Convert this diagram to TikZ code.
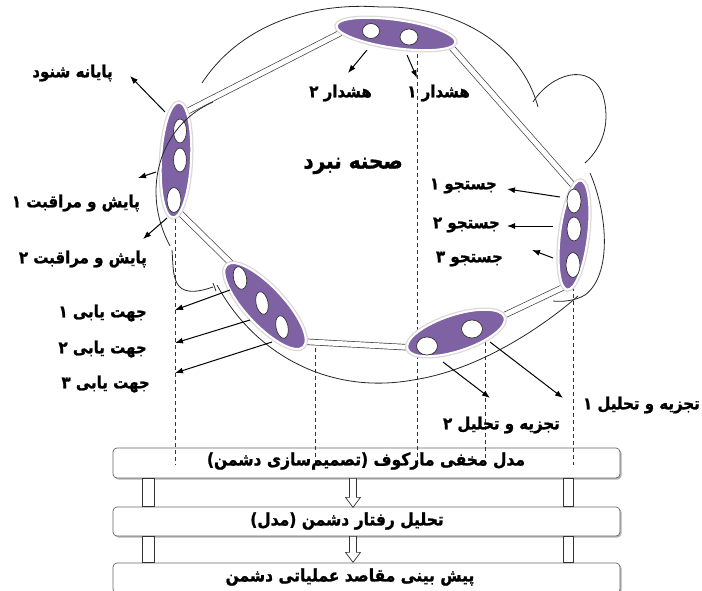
\documentclass[tikz,border=0pt]{standalone}
\usepackage{fontspec}
\usepackage{graphicx}
\newfontfamily\fa[Script=Arabic,BoldFont={DejaVu Sans Bold},BoldFeatures={FakeBold=1.2}]{DejaVu Sans}
\TeXXeTstate=1
\usetikzlibrary{shapes.geometric,arrows.meta,shadows}
\pgfdeclarelayer{bg}
\pgfdeclarelayer{mid}
\pgfsetlayers{bg,mid,main}
\definecolor{purp}{RGB}{126,98,163}
\newcommand\rl[1]{\scalebox{1}[1.12]{\beginR #1\endR}}

\begin{document}
\begin{tikzpicture}[x=1pt,y=-1pt,
  blob/.style={ellipse, inner sep=0pt, fill=purp, draw=white, line width=2pt,
    preaction={draw=gray!30, line width=4.5pt}},
  hole/.style={ellipse, inner sep=0pt, fill=white, draw=black!80, line width=0.7pt},
  band/.style={draw=black!75, line width=0.7pt, double=white, double distance=5pt},
  outline/.style={draw=black!85, line width=0.8pt},
  guide/.style={draw=black!80, line width=0.7pt, dash pattern=on 4pt off 3pt},
  arr/.style={draw=black, line width=1pt, -{Latex[length=8pt,width=6pt]}},
  lbl/.style={font=\fa\bfseries\fontsize{15}{17}\selectfont, inner sep=0pt, anchor=east},
  boxbar/.style={draw=black!60, line width=0.7pt, rounded corners=4pt, fill=white,
    minimum width=507pt, inner sep=0pt,
    drop shadow={shadow xshift=1.5pt, shadow yshift=-1.5pt, fill=black!50, opacity=0.6}},
  boxtxt/.style={font=\fa\bfseries\fontsize{15.5}{17}\selectfont, inner sep=0pt},
  pillar/.style={draw=black!80, line width=0.7pt, fill=white},
  hollow/.style={draw=black!80, line width=0.7pt, fill=white}
]
\useasboundingbox (0,0) rectangle (702,591);

% ---------- stacked model boxes and the guide lines that fall into them
\begin{pgfonlayer}{bg}
  \node[boxbar, minimum height=30pt] (b1) at (366.5,463) {};
  \node[boxbar, minimum height=29pt] (b2) at (366.5,521.5) {};
  \node[boxbar, minimum height=30pt] (b3) at (366.5,578) {};
  \draw[guide] (175,205) -- (175,465);
  \draw[guide] (315,341) -- (315,465);
  \draw[guide] (417,40)  -- (417,465);
  \draw[guide] (485,335) -- (485,465);
  \draw[guide] (573,280) -- (573,465);
\end{pgfonlayer}

\node[boxtxt] (t1) at (366,461) {\rl{مدل مخفی مارکوف (تصمیم‌سازی دشمن)}};
\node[boxtxt] (t2) at (347,521) {\rl{تحلیل رفتار دشمن (مدل)}};
\node[boxtxt] (t3) at (350,577) {\rl{پیش بینی مقاصد عملیاتی دشمن}};

% posts between the boxes
\draw[pillar] ([xshift=30pt]b1.south west) rectangle ([xshift=42pt]b2.north west);
\draw[pillar] ([xshift=-57pt]b1.south east) rectangle ([xshift=-47pt]b2.north east);
\draw[pillar] ([xshift=30pt]b2.south west) rectangle ([xshift=42pt]b3.north west);
\draw[pillar] ([xshift=-57pt]b2.south east) rectangle ([xshift=-47pt]b3.north east);

% hollow down arrows
\draw[hollow] ([xshift=-13.5pt]b1.south) ++(-3.5,0) -- ++(0,19) -- ++(-4,0)
  -- ++(7.5,10) -- ++(7.5,-10) -- ++(-4,0) -- ++(0,-19) -- cycle;
\draw[hollow] ([xshift=-13.5pt]b2.south) ++(-3.5,0) -- ++(0,16) -- ++(-4,0)
  -- ++(7.5,10) -- ++(7.5,-10) -- ++(-4,0) -- ++(0,-16) -- cycle;

% ---------- the five sensor groups
\node[blob, minimum width=120pt, minimum height=28pt, rotate=-8] (nT) at (396,34) {};
\node[blob, minimum width=115pt, minimum height=30pt, rotate=87] (nL) at (176,160) {};
\node[blob, minimum width=110pt, minimum height=28pt, rotate=83] (nR) at (574,235) {};
\node[blob, minimum width=112pt, minimum height=38pt, rotate=-47] (nLL) at (265,306) {};
\node[blob, minimum width=102pt, minimum height=36pt, rotate=18] (nLR) at (456,333) {};

\node[hole, minimum width=17pt, minimum height=15pt] (hT1) at (371,31) {};
\node[hole, minimum width=18pt, minimum height=16pt] (hT2) at (409,37) {};
\node[hole, minimum width=13pt, minimum height=24pt] (hL1) at (180,131) {};
\node[hole, minimum width=13pt, minimum height=24pt] (hL2) at (180,160) {};
\node[hole, minimum width=14pt, minimum height=25pt] (hL3) at (174,200) {};
\node[hole, minimum width=14pt, minimum height=24pt] (hR1) at (574,201) {};
\node[hole, minimum width=14pt, minimum height=24pt] (hR2) at (574,229) {};
\node[hole, minimum width=14pt, minimum height=25pt] (hR3) at (573,265) {};
\node[hole, minimum width=13pt, minimum height=23pt, rotate=12] (hLL1) at (240,278) {};
\node[hole, minimum width=12pt, minimum height=23pt, rotate=12] (hLL2) at (262,303) {};
\node[hole, minimum width=12pt, minimum height=23pt, rotate=12] (hLL3) at (282,327) {};
\node[hole, minimum width=21pt, minimum height=18pt] (hLR1) at (427,346) {};
\node[hole, minimum width=21pt, minimum height=18pt] (hLR2) at (472,329) {};

% ---------- links between the groups
\begin{pgfonlayer}{mid}
  \draw[band] ([shift={(-42,-8)}]nT.center) -- ([shift={(0,-43)}]nL.center);
  \draw[band] ([shift={(49,6)}]nT.center)   -- ([shift={(5,-43)}]nR.center);
  \draw[band] ([shift={(1,50)}]nL.center)   -- ([shift={(-20,-29)}]nLL.center);
  \draw[band] ([shift={(27,35)}]nLL.center) -- ([shift={(-36,15)}]nLR.center);
  \draw[band] ([shift={(34,-11)}]nLR.center) -- ([shift={(-8,51)}]nR.center);
\end{pgfonlayer}

% ---------- outline of the battle area
\draw[outline] (202,83) .. controls (240,25) and (310,2) .. (380,7)
  .. controls (450,5) and (520,40) .. (538,107);
\draw[outline] (533,102) .. controls (550,75) and (590,60) .. (603,95)
  .. controls (610,120) and (605,145) .. (585,163);
\draw[outline] (590,173) .. controls (608,215) and (612,275) .. (585,295)
  .. controls (575,301) and (562,302) .. (553,301);
\draw[outline] (213,102) .. controls (160,125) and (140,190) .. (170,246);
\draw[outline] (172,250) .. controls (174,275) and (170,302) .. (213,287);
\draw[outline] (213,283) -- (216,291);
\draw[outline] (217,285) .. controls (255,355) and (330,395) .. (413,380)
  .. controls (480,370) and (545,325) .. (578,296);

\node[font=\fa\bfseries\fontsize{20}{22}\selectfont, inner sep=0pt, anchor=east] (scene) at (403,166) {\rl{صحنه نبرد}};

% ---------- labels
\node[lbl] (lTa) at (372,93) {\rl{هشدار ۲}};
\node[lbl] (lTb) at (470,93) {\rl{هشدار ۱}};
\node[lbl] (lL0) at (113,73) {\rl{پایانه شنود}};
\node[lbl] (lL1) at (140,203) {\rl{پایش و مراقبت ۱}};
\node[lbl] (lL2) at (147,259) {\rl{پایش و مراقبت ۲}};
\node[lbl] (lR1) at (497,186) {\rl{جستجو ۱}};
\node[lbl] (lR2) at (500,225) {\rl{جستجو ۲}};
\node[lbl] (lR3) at (503,259) {\rl{جستجو ۳}};
\node[lbl] (lD1) at (147,313) {\rl{جهت یابی ۱}};
\node[lbl] (lD2) at (147,349) {\rl{جهت یابی ۲}};
\node[lbl] (lD3) at (150,384) {\rl{جهت یابی ۳}};
\node[lbl] (lA1) at (700,405) {\rl{تجزیه و تحلیل ۱}};
\node[lbl] (lA2) at (560,425) {\rl{تجزیه و تحلیل ۲}};

% ---------- outputs of each group
\coordinate (eT1) at (348,73);
\coordinate (eT2) at (417,78);
\coordinate (eL0) at (130,76);
\coordinate (eL1) at (138,178);
\coordinate (eL2) at (143,239);
\coordinate (eR1) at (507,189);
\coordinate (eR2) at (507,226);
\coordinate (eR3) at (532,250);
\coordinate (eD1) at (175,310);
\coordinate (eD2) at (175,343);
\coordinate (eD3) at (175,373);
\coordinate (eA2) at (490,398);
\coordinate (eA1) at (563,398);

\draw[arr] ([shift={(-29,16)}]nT.center) -- (eT1);
\draw[arr] ([shift={(11,21)}]nT.center)  -- (eT2);
\draw[arr] ([shift={(-11,-48)}]nL.center) -- (eL0);
\draw[arr] ([shift={(-20,12)}]nL.center)  -- (eL1);
\draw[arr] ([shift={(-9,58)}]nL.center)   -- (eL2);
\draw[arr] ([shift={(-14,-38)}]nR.center) -- (eR1);
\draw[arr] ([shift={(-21,-9)}]nR.center)  -- (eR2);
\draw[arr] ([shift={(-21,23)}]nR.center)  -- (eR3);
\draw[arr] ([shift={(-35,-16)}]nLL.center) -- (eD1);
\draw[arr] ([shift={(-15,14)}]nLL.center)  -- (eD2);
\draw[arr] ([shift={(7,36)}]nLL.center)    -- (eD3);
\draw[arr] ([shift={(-13,29)}]nLR.center)  -- (eA2);
\draw[arr] ([shift={(34,9)}]nLR.center)    -- (eA1);
\end{tikzpicture}
\end{document}
